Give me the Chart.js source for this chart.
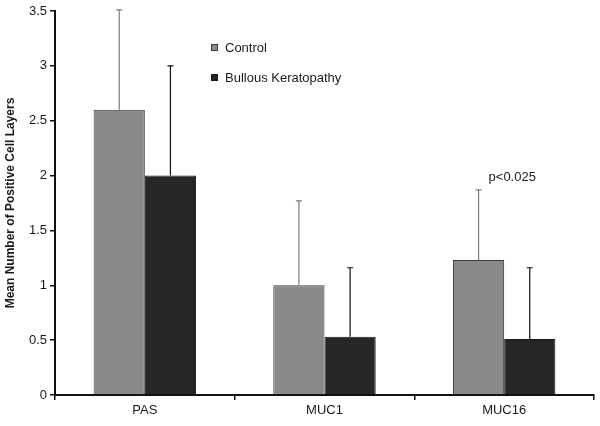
<!DOCTYPE html>
<html>
<head>
<meta charset="utf-8">
<script src="https://cdn.jsdelivr.net/npm/chart.js@4/dist/chart.umd.min.js"></script>
<style>
  html, body { margin: 0; padding: 0; background: #fff; }
  #wrap { width: 600px; height: 426px; }
</style>
</head>
<body>
<div id="wrap"><canvas id="chart"></canvas></div>
<script>
// data
const categories = ['PAS', 'MUC1', 'MUC16']
const controlMeans = [2.6, 1.0, 1.23]
const controlUpper = [3.51, 1.77, 1.87]
const bullousMeans = [2.0, 0.53, 0.51]
const bullousUpper = [3.0, 1.16, 1.16]
const yTicks = [0, 0.5, 1, 1.5, 2, 2.5, 3, 3.5]
const seriesNames = ['Control', 'Bullous Keratopathy']
const note = 'p<0.025'

const FONT = '"Liberation Sans", Arial, sans-serif'

// upper-only error bars, drawn from the bar x and the y scale
const errorBars = {
  id: 'errorBars',
  afterDatasetsDraw (chart) {
    const ctx = chart.ctx
    const y = chart.scales.y
    chart.data.datasets.forEach((ds, i) => {
      const meta = chart.getDatasetMeta(i)
      meta.data.forEach((bar, j) => {
        const yTop = y.getPixelForValue(ds.upper[j])
        ctx.save()
        ctx.strokeStyle = ds.errColor
        ctx.lineWidth = 1.2
        ctx.beginPath()
        ctx.moveTo(bar.x, bar.y)
        ctx.lineTo(bar.x, yTop)
        ctx.moveTo(bar.x - 3, yTop)
        ctx.lineTo(bar.x + 3, yTop)
        ctx.stroke()
        ctx.restore()
      })
    })
    // significance note above MUC16 control
    const m = chart.getDatasetMeta(0).data[2]
    ctx.save()
    ctx.font = '13px ' + FONT
    ctx.fillStyle = '#222'
    ctx.textBaseline = 'middle'
    ctx.fillText(note, m.x + 10, y.getPixelForValue(controlUpper[2]) - 12)
    ctx.restore()
  }
}

// legend drawn inside the plot, stacked
const innerLegend = {
  id: 'innerLegend',
  afterDraw (chart) {
    const ctx = chart.ctx
    const rows = [44, 74]
    ctx.save()
    ctx.font = '13px ' + FONT
    ctx.textBaseline = 'middle'
    chart.data.datasets.forEach((ds, i) => {
      const top = rows[i]
      ctx.fillStyle = ds.backgroundColor
      ctx.fillRect(211, top, 7, 7)
      ctx.strokeStyle = ds.borderColor
      ctx.lineWidth = 1
      ctx.strokeRect(211.5, top + 0.5, 6, 6)
      ctx.fillStyle = '#1a1a1a'
      ctx.fillText(ds.label, 225, top + 4)
    })
    ctx.restore()
  }
}

new Chart(document.getElementById('chart'), {
  type: 'bar',
  data: {
    labels: categories,
    datasets: [
      {
        label: seriesNames[0],
        data: controlMeans,
        upper: controlUpper,
        errColor: '#7a7a7a',
        backgroundColor: '#8a8a8a',
        borderColor: '#3c3c3c',
        borderWidth: 1
      },
      {
        label: seriesNames[1],
        data: bullousMeans,
        upper: bullousUpper,
        errColor: '#111',
        backgroundColor: '#262626',
        borderColor: '#1a1a1a',
        borderWidth: 1
      }
    ]
  },
  options: {
    responsive: true,
    maintainAspectRatio: false,
    animation: false,
    layout: { padding: { top: 11, right: 6, left: 3, bottom: 0 } },
    datasets: { bar: { categoryPercentage: 0.57, barPercentage: 1.0 } },
    plugins: { legend: { display: false }, tooltip: { enabled: false } },
    scales: {
      x: {
        grid: { offset: true, drawOnChartArea: false, tickLength: 5, color: '#111', lineWidth: 1.5 },
        border: { color: '#111', width: 2 },
        ticks: { color: '#1a1a1a', font: { family: FONT, size: 13 }, padding: 3 },
        afterFit (s) { s.height = 31 }
      },
      y: {
        min: 0,
        max: 3.5,
        afterBuildTicks (s) { s.ticks = yTicks.map(v => ({ value: v })) },
        grid: { drawOnChartArea: false, tickLength: 5, color: '#111', lineWidth: 1.5 },
        border: { color: '#111', width: 2 },
        ticks: {
          color: '#1a1a1a',
          font: { family: FONT, size: 13 },
          padding: 3,
          callback: v => String(v)
        },
        title: {
          display: true,
          text: 'Mean Number of Positive Cell Layers',
          color: '#1a1a1a',
          font: { family: FONT, size: 12, weight: 'bold' },
          padding: { top: 0, bottom: 2 }
        },
        afterFit (s) { s.width = 52 }
      }
    }
  },
  plugins: [errorBars, innerLegend]
})
</script>
</body>
</html>
